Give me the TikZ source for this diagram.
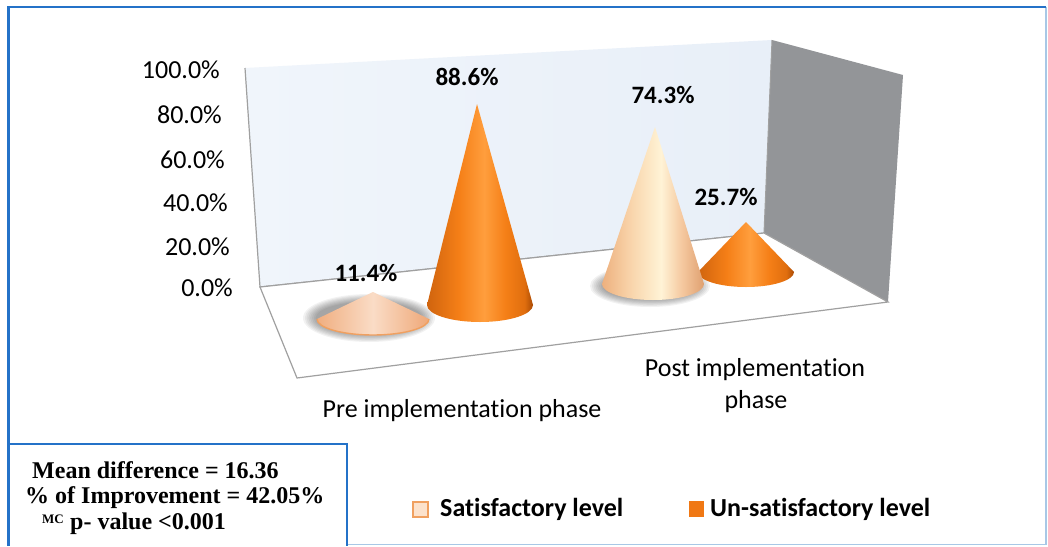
\documentclass[tikz,border=0pt]{standalone}
\usepackage{fontspec}
\setmainfont{Carlito}[Ligatures={NoCommon,NoRare,NoContextual}]
\newfontfamily\tnr{Liberation Serif}
\definecolor{frameblue}{HTML}{2472C8}
\definecolor{lightframe}{HTML}{A8C8E6}
\definecolor{wallblue}{HTML}{E8EFF8}
\definecolor{wallblueL}{HTML}{F0F5FB}
\definecolor{sidegray}{HTML}{939598}
\definecolor{edgegray}{HTML}{A0A0A0}
\definecolor{oc1}{HTML}{D0640E}
\definecolor{oc2}{HTML}{F57F17}
\definecolor{oc3}{HTML}{FF9E3D}
\definecolor{oc4}{HTML}{E06E0E}
\definecolor{oc5}{HTML}{A94A05}
\definecolor{cc1}{HTML}{EDB07E}
\definecolor{cc2}{HTML}{F8D2A8}
\definecolor{cc3}{HTML}{FFF3D6}
\definecolor{cc4}{HTML}{F5C9A0}
\definecolor{cc5}{HTML}{DFA070}
\definecolor{fc1}{HTML}{F0AE80}
\definecolor{fc2}{HTML}{FADCC6}
\definecolor{fc3}{HTML}{EFA878}
\definecolor{rimorange}{HTML}{F0A060}
\definecolor{legorange}{HTML}{F07814}
\definecolor{legcream}{HTML}{FCE2CC}
\pgfdeclarehorizontalshading{orangecone}{100bp}{color(0bp)=(oc1); color(25bp)=(oc1); color(40bp)=(oc2); color(52bp)=(oc3); color(62bp)=(oc2); color(71bp)=(oc4); color(75bp)=(oc5); color(100bp)=(oc5)}
\pgfdeclarehorizontalshading{creamcone}{100bp}{color(0bp)=(cc1); color(25bp)=(cc1); color(38bp)=(cc2); color(54bp)=(cc3); color(64bp)=(cc4); color(75bp)=(cc5); color(100bp)=(cc5)}
\pgfdeclarehorizontalshading{flatcone}{100bp}{color(0bp)=(fc1); color(25bp)=(fc1); color(50bp)=(fc2); color(75bp)=(fc3); color(100bp)=(fc3)}
\newcommand\drawcone[6]{%
  \shade[shading=#6] (#2-#4,#3) arc[start angle=180,end angle=360,x radius=#4pt,y radius=#5pt] -- #1 -- cycle;}
\newcommand\softshadow[4]{%
  \foreach \k in {0,...,7}{%
    \fill[black,opacity=0.05] (#1,#2) ellipse[x radius={(#3-\k*1.8)*1pt}, y radius={(#4-\k*1.1)*1pt}];}}
\tikzset{
  axislbl/.style={anchor=east,inner sep=0pt,font=\fontsize{26}{30}\selectfont},
  datalbl/.style={inner sep=0pt,font=\bfseries\fontsize{25}{28}\selectfont},
  catlbl/.style={anchor=base,inner sep=0pt,font=\fontsize{26}{30}\selectfont},
  leglbl/.style={anchor=base west,inner sep=0pt,font=\bfseries\fontsize{26}{30}\selectfont},
  boxlbl/.style={anchor=base west,inner sep=0pt,font=\tnr\bfseries\fontsize{24}{28}\selectfont},
}
\begin{document}
\begin{tikzpicture}[x=1pt,y=-1pt]
\useasboundingbox (0,0) rectangle (1048,546);
\fill[white] (0,0) rectangle (1048,546);
% walls
\shade[left color=wallblueL,right color=wallblue] (245,68) -- (772,40) -- (764,233) -- (260,287) -- cycle;
\fill[sidegray] (772,40) -- (903,75) -- (888,302) -- (764,233) -- cycle;
\draw[edgegray,line width=1.2] (245,68) -- (260,287) -- (764,233);
\draw[edgegray,line width=1] (772,40) -- (764,233);
% floor
\filldraw[fill=white,draw=edgegray,line width=1.2] (260,287) -- (764,233) -- (888,302) -- (297,378) -- cycle;
% shadows
\softshadow{369}{318}{66}{24}
\softshadow{650}{286}{60}{21}
% cones: post
\drawcone{(746,222)}{746}{272}{48}{15}{orangecone}
\drawcone{(655,127)}{653}{284}{51}{16}{creamcone}
% cones: pre
\drawcone{(477,104)}{480}{305}{53}{17}{orangecone}
\drawcone{(373,292)}{373}{319}{56}{16}{flatcone}
\draw[rimorange,line width=1.4] (317,319) arc[start angle=180,end angle=360,x radius=56pt,y radius=16pt];
% axis labels
\node[axislbl] (t100) at (220,70) {100.0\%};
\node[axislbl] (t80) at (222,115) {80.0\%};
\node[axislbl] (t60) at (225,160) {60.0\%};
\node[axislbl] (t40) at (228,203) {40.0\%};
\node[axislbl] (t20) at (230,247) {20.0\%};
\node[axislbl] (t0) at (233,288) {0.0\%};
% data labels
\node[datalbl] (d1) at (467,77) {88.6\%};
\node[datalbl] (d2) at (663,95) {74.3\%};
\node[datalbl] (d3) at (726,197) {25.7\%};
\node[datalbl] (d4) at (366,273) {11.4\%};
% category labels
\node[catlbl] (cpre) at (462,417) {Pre implementation phase};
\node[catlbl] (cpost) at (755,376) {Post implementation};
\node[catlbl] (cpost2) at (756,408) {phase};
% legend
\filldraw[fill=legcream,draw=rimorange,line width=1.2] (413,502) rectangle (428,517);
\node[leglbl] (lsat) at (440,516) {Satisfactory level};
\fill[legorange] (689,501) rectangle (704,517);
\node[leglbl] (luns) at (710,516) {Un-satisfactory level};
% frames
\draw[lightframe,line width=1.5] (1046,7) -- (1046,544.5) -- (347,544.5);
\draw[frameblue,line width=2.5] (8.5,546) -- (8.5,7) -- (1046,7);
\draw[frameblue,line width=2.5] (9,546) -- (9,444) -- (347,444) -- (347,546);
% stats box
\node[boxlbl] (m1) at (32,478) {Mean difference = 16.36};
\node[boxlbl] (m2) at (25,503) {\% of Improvement = 42.05\%};
\node[anchor=base west,inner sep=0pt,font=\tnr\bfseries\fontsize{13}{16}\selectfont] (m3a) at (42,523) {MC};
\node[boxlbl] (m3) at (70,529) {p- value <0.001};
\end{tikzpicture}
\end{document}
